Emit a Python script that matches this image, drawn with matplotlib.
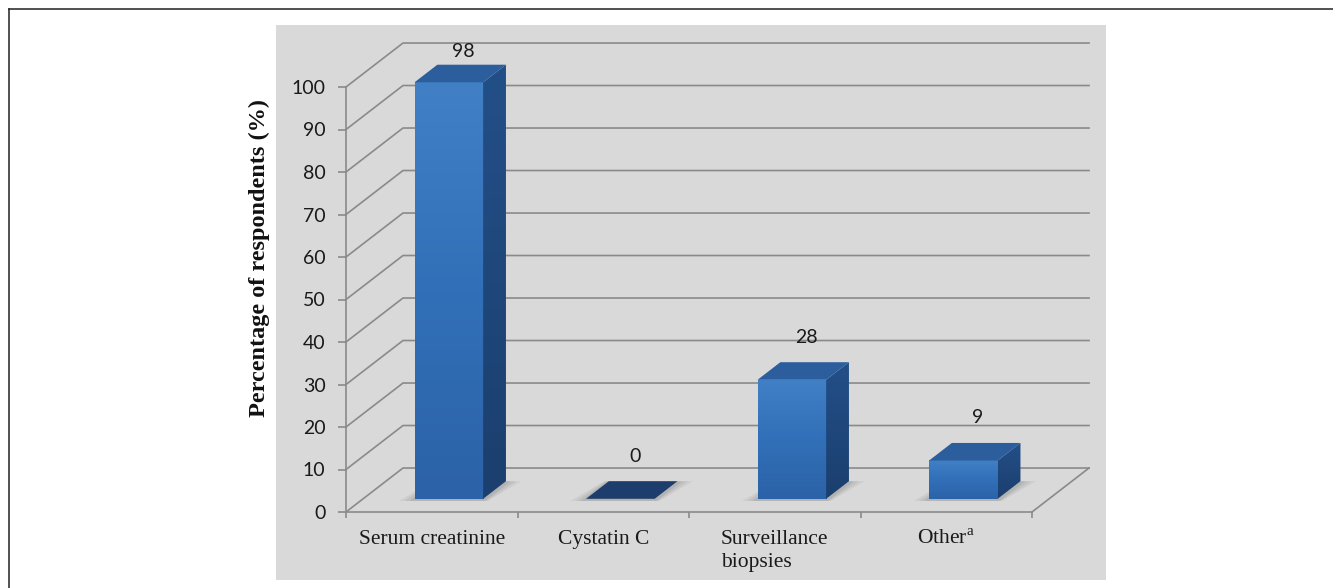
import numpy as np
import matplotlib.pyplot as plt
from matplotlib.patches import Polygon, Rectangle
from matplotlib.lines import Line2D
from matplotlib.colors import LinearSegmentedColormap

# -------------------------------
# DATA
# -------------------------------
categories = ["Serum creatinine", "Cystatin C", "Surveillance\nbiopsies", "Other$^{\\mathrm{a}}$"]
percent = [98, 0, 28, 9]
y_ticks = list(range(0, 101, 10))

# -------------------------------
# STYLE
# -------------------------------
W, H, DPI = 1333, 588, 100
GRID = "#8a8a8a"
PANEL = "#d9d9d9"
plt.rcParams["font.family"] = "Lato"
plt.rcParams["mathtext.fontset"] = "custom"
plt.rcParams["mathtext.rm"] = "Liberation Serif"

# oblique depth of the 3d box (in data units) and bar depth slot
DX, DY = 0.3324, 10.35
D0, D1 = 0.3, 0.7
HALF = 0.2

front_cmap = LinearSegmentedColormap.from_list("front", ["#2c62a7", "#3170b8", "#4180c5"])
side_cmap = LinearSegmentedColormap.from_list("side", ["#1b3f6e", "#234f88"])

fig = plt.figure(figsize=(W / DPI, H / DPI), dpi=DPI)

# grey chart panel and the outer frame
fig.add_artist(Rectangle((276 / W, 1 - 580 / H), 830 / W, 555 / H, transform=fig.transFigure,
                         facecolor=PANEL, edgecolor="none", zorder=0))
fig.add_artist(Line2D([9 / W, 9 / W], [0, 1 - 9 / H], transform=fig.transFigure, color="#222222", lw=1.1))
fig.add_artist(Line2D([9 / W, 1], [1 - 9 / H, 1 - 9 / H], transform=fig.transFigure, color="#222222", lw=1.1))

ax = fig.add_axes([346 / W, 1 - 512 / H, 686 / W, 425 / H])
ax.patch.set_visible(False)
ax.set_xlim(0, 4)
ax.set_ylim(0, 100)

# back wall gridlines + floor
for v in y_ticks:
    ax.plot([0, DX, 4 + DX], [v, v + DY, v + DY], color=GRID, lw=1.2, clip_on=False, zorder=1)
ax.plot([4, 4 + DX], [0, DY], color=GRID, lw=1.2, clip_on=False, zorder=1)

# -------------------------------
# 3D BARS
# -------------------------------
for i, v in enumerate(percent):
    c = i + 0.5
    x0, x1 = c - HALF + D0 * DX, c + HALF + D0 * DX
    y0 = D0 * DY
    sx, sy = (D1 - D0) * DX, (D1 - D0) * DY

    # soft floor shadow
    for grow, a in [(0.09, 0.05), (0.06, 0.06), (0.03, 0.07)]:
        shadow = Polygon([(x0 - grow, y0 - 0.5), (x1 + grow * 0.3, y0 - 0.5),
                          (x1 + sx + grow, y0 + sy), (x0 + sx - grow * 0.3, y0 + sy)],
                         closed=True, facecolor="black", edgecolor="none", alpha=a,
                         clip_on=False, zorder=2)
        ax.add_patch(shadow)

    top = [(x0, y0 + v), (x1, y0 + v), (x1 + sx, y0 + sy + v), (x0 + sx, y0 + sy + v)]
    if v > 0:
        grad = np.linspace(0, 1, 256).reshape(-1, 1)
        ax.imshow(grad, cmap=front_cmap, extent=(x0, x1, y0, y0 + v), origin="lower",
                  aspect="auto", zorder=3, clip_on=False)
        side = Polygon([(x1, y0), (x1 + sx, y0 + sy), (x1 + sx, y0 + sy + v), (x1, y0 + v)],
                       closed=True, facecolor="none", edgecolor="none", transform=ax.transData)
        ax.add_patch(side)
        im = ax.imshow(grad, cmap=side_cmap, extent=(x1, x1 + sx, y0, y0 + sy + v), origin="lower",
                       aspect="auto", zorder=3)
        im.set_clip_path(side)
        im.set_clip_box(fig.bbox)
        ax.add_patch(Polygon(top, closed=True, facecolor="#2c5d9c", edgecolor="none",
                             zorder=4, clip_on=False))
    else:
        ax.add_patch(Polygon(top, closed=True, facecolor="#1d3e6c", edgecolor="none",
                             zorder=4, clip_on=False))

    ax.text(c + 0.55 * DX, min(v + D1 * DY + 5.9, 100 + DY - 2), str(v), ha="center", va="center",
            fontsize=14, color="#1a1a1a", zorder=6, clip_on=False)

ax.set_xlim(0, 4)
ax.set_ylim(0, 100)

# -------------------------------
# AXES
# -------------------------------
for side_name in ["top", "right"]:
    ax.spines[side_name].set_visible(False)
for side_name in ["left", "bottom"]:
    ax.spines[side_name].set_color(GRID)
    ax.spines[side_name].set_linewidth(1.2)
    ax.spines[side_name].set_zorder(5)

ax.set_yticks(y_ticks)
ax.tick_params(axis="y", length=5.8, width=1.2, color=GRID, pad=9, labelsize=14, labelcolor="#1a1a1a")

ax.set_xticks(range(5))
ax.set_xticklabels([])
ax.tick_params(axis="x", which="major", length=4, width=1.2, color=GRID)
ax.set_xticks([i + 0.5 for i in range(len(categories))], minor=True)
ax.set_xticklabels(categories, minor=True, fontfamily="Liberation Serif", fontsize=15.5,
                   color="#1a1a1a")
ax.tick_params(axis="x", which="minor", length=0, pad=13)
for lbl in ax.get_xticklabels(minor=True):
    lbl.set_multialignment("left")
    lbl.set_linespacing(1.3)

fig.text(259 / W, 1 - 258 / H, "Percentage of respondents (%)", rotation=90, ha="center", va="center",
         fontfamily="Liberation Serif", fontweight="bold", fontsize=17.5, color="#111111")

fig.savefig("out.png", dpi=DPI)
